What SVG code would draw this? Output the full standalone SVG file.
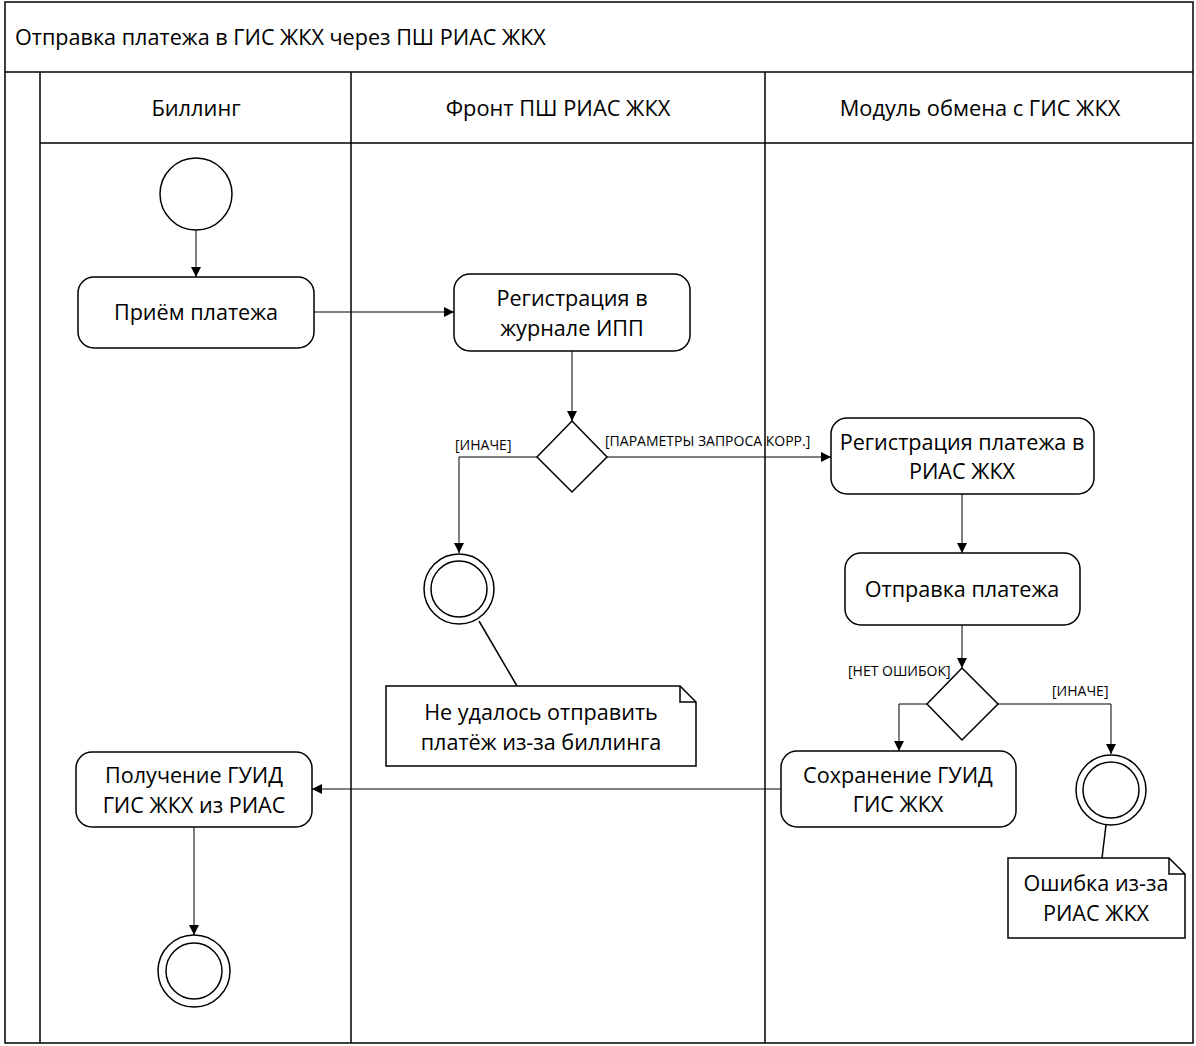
<svg xmlns="http://www.w3.org/2000/svg" width="1196" height="1046" viewBox="0 0 1196 1046">
<defs>
<marker id="arr" viewBox="0 0 10 10" refX="10" refY="5" markerWidth="10" markerHeight="10" markerUnits="userSpaceOnUse" orient="auto">
<path d="M0,0 L10,5 L0,10 Z" fill="#000"/>
</marker>
<style>
text{font-family:"Open Sans","Noto Sans",Arial,sans-serif;fill:#000}
.t{font-size:21.6px;text-anchor:middle}
.h{font-size:21.8px;text-anchor:middle}
.g{font-size:14px}
.frame{fill:none;stroke:#000;stroke-width:1.5}
.node{fill:#fff;stroke:#000;stroke-width:1.5}
.con{fill:none;stroke:#000;stroke-width:1}
</style>
</defs>
<rect x="0" y="0" width="1196" height="1046" fill="#fff"/>
<g id="frame">
<rect class="frame" x="5" y="2" width="1188" height="1041"/>
<line class="frame" x1="5" y1="72" x2="1193" y2="72"/>
<line class="frame" x1="40" y1="72" x2="40" y2="1043"/>
<line class="frame" x1="40" y1="143" x2="1193" y2="143"/>
<line class="frame" x1="351" y1="72" x2="351" y2="1043"/>
<line class="frame" x1="765" y1="72" x2="765" y2="1043"/>
<text x="15" y="45" style="font-size:21.6px">Отправка платежа в ГИС ЖКХ через ПШ РИАС ЖКХ</text>
<text class="h" x="196" y="116">Биллинг</text>
<text class="h" x="558" y="116">Фронт ПШ РИАС ЖКХ</text>
<text class="h" x="980" y="116">Модуль обмена с ГИС ЖКХ</text>
</g>
<g id="connectors">
<line class="con" x1="196" y1="230" x2="196" y2="277" marker-end="url(#arr)"/>
<line class="con" x1="314" y1="312" x2="454" y2="312" marker-end="url(#arr)"/>
<line class="con" x1="572" y1="351" x2="572" y2="421" marker-end="url(#arr)"/>
<polyline class="con" points="537,457 459,457 459,553" marker-end="url(#arr)"/>
<line class="con" x1="607" y1="457" x2="831" y2="457" marker-end="url(#arr)"/>
<line class="con" x1="962" y1="494" x2="962" y2="553" marker-end="url(#arr)"/>
<line class="con" x1="962" y1="625" x2="962" y2="668" marker-end="url(#arr)"/>
<polyline class="con" points="927,704 899,704 899,751" marker-end="url(#arr)"/>
<polyline class="con" points="998,704 1111,704 1111,754" marker-end="url(#arr)"/>
<line class="con" x1="781" y1="789" x2="312" y2="789" marker-end="url(#arr)"/>
<line class="con" x1="194" y1="827" x2="194" y2="935" marker-end="url(#arr)"/>
<line class="con" x1="479" y1="621" x2="517" y2="686" style="stroke-width:1.5"/>
<line class="con" x1="1106" y1="825" x2="1102" y2="858" style="stroke-width:1.5"/>
<text class="g" x="455" y="450">[ИНАЧЕ]</text>
<text class="g" x="605" y="446">[ПАРАМЕТРЫ ЗАПРОСА КОРР.]</text>
<text class="g" x="848" y="676">[НЕТ ОШИБОК]</text>
<text class="g" x="1052" y="696">[ИНАЧЕ]</text>
</g>
<g id="start">
<circle class="node" cx="196" cy="194" r="36"/>
</g>
<g id="priem">
<rect class="node" x="78" y="277" width="236" height="71" rx="16"/>
<text class="t" x="196" y="320">Приём платежа</text>
</g>
<g id="reg-ipp">
<rect class="node" x="454" y="274" width="236" height="77" rx="16"/>
<text class="t" x="572" y="306">Регистрация в</text>
<text class="t" x="572" y="336">журнале ИПП</text>
</g>
<g id="dec1">
<polygon class="node" points="572,421 607,457 572,492 537,457"/>
</g>
<g id="end1">
<circle class="node" cx="459" cy="589" r="35"/>
<circle class="node" cx="459" cy="589" r="28"/>
</g>
<g id="note1">
<path class="node" d="M386,686 H680 L696,702 V766 H386 Z"/>
<path class="con" d="M680,686 V702 H696" style="stroke-width:1.5"/>
<text class="t" x="541" y="720">Не удалось отправить</text>
<text class="t" x="541" y="750">платёж из-за биллинга</text>
</g>
<g id="reg-rias">
<rect class="node" x="831" y="418" width="263" height="76" rx="16"/>
<text class="t" x="962" y="450">Регистрация платежа в</text>
<text class="t" x="962" y="479">РИАС ЖКХ</text>
</g>
<g id="send">
<rect class="node" x="845" y="553" width="235" height="72" rx="16"/>
<text class="t" x="962" y="597">Отправка платежа</text>
</g>
<g id="dec2">
<polygon class="node" points="962,668 998,704 962,740 927,704"/>
</g>
<g id="save">
<rect class="node" x="781" y="751" width="235" height="76" rx="16"/>
<text class="t" x="898" y="783">Сохранение ГУИД</text>
<text class="t" x="898" y="812">ГИС ЖКХ</text>
</g>
<g id="end2">
<circle class="node" cx="1111" cy="790" r="35"/>
<circle class="node" cx="1111" cy="790" r="28"/>
</g>
<g id="note2">
<path class="node" d="M1008,858 H1169 L1185,874 V938 H1008 Z"/>
<path class="con" d="M1169,858 V874 H1185" style="stroke-width:1.5"/>
<text class="t" x="1096" y="891">Ошибка из-за</text>
<text class="t" x="1096" y="921">РИАС ЖКХ</text>
</g>
<g id="get-guid">
<rect class="node" x="76" y="752" width="236" height="75" rx="16"/>
<text class="t" x="194" y="783">Получение ГУИД</text>
<text class="t" x="194" y="813">ГИС ЖКХ из РИАС</text>
</g>
<g id="end3">
<circle class="node" cx="194" cy="971" r="36"/>
<circle class="node" cx="194" cy="971" r="28"/>
</g>
</svg>
